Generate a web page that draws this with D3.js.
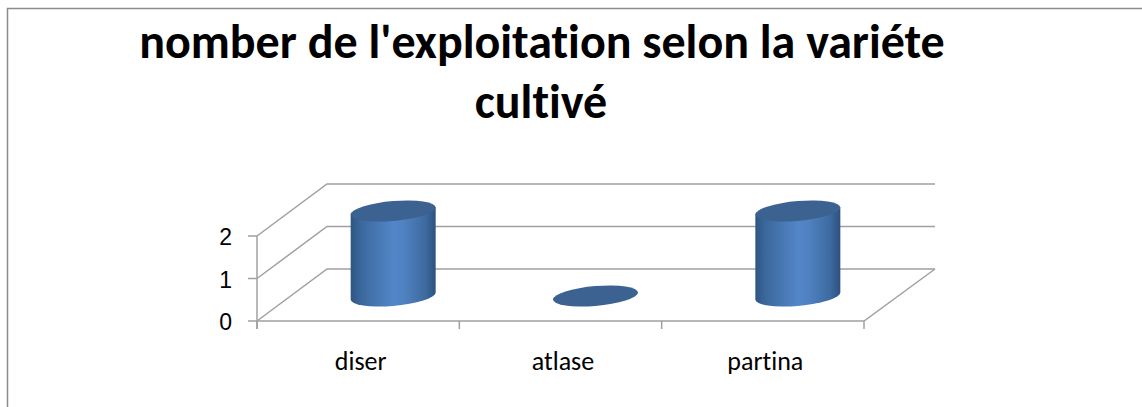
<!DOCTYPE html>
<html><head><meta charset="utf-8">
<script src="https://cdn.jsdelivr.net/npm/d3@7"></script>
<style>html,body{margin:0;padding:0;background:#fff}svg{display:block}text{font-variant-ligatures:none}</style>
</head><body><div id="c"></div>
<script>
const categories = ["diser", "atlase", "partina"];
const values = [2, 0, 2];
const yTicks = [0, 1, 2];
const titleLines = ["nomber de l'exploitation selon la variéte", "cultivé"];

const W = 1142, H = 407;
const svg = d3.select("#c").append("svg").attr("width", W).attr("height", H);
const sansFont = "Carlito, Lato, 'Open Sans', 'Liberation Sans', sans-serif";

const defs = svg.append("defs");
const g = defs.append("linearGradient").attr("id","cyl").attr("x1","0").attr("x2","1").attr("y1","0").attr("y2","0");
[[0,"#2f5583"],[0.12,"#3b689c"],[0.5,"#5386c8"],[0.62,"#5082c2"],[0.88,"#3d6a9f"],[1,"#2d5180"]]
  .forEach(s=>g.append("stop").attr("offset",s[0]).attr("stop-color",s[1]));

svg.append("path").attr("d",`M7.5,${H}V8.5H${W}`).attr("fill","none").attr("stroke","#8c8c8c").attr("stroke-width",1.5);

svg.append("g").selectAll("text").data(titleLines).join("text")
  .attr("x",(d,i)=>i?541:542).attr("y",(d,i)=>58+i*60)
  .attr("text-anchor","middle").attr("font-family",sansFont)
  .attr("font-weight",700).attr("font-size",48).attr("fill","#000").text(d=>d);

const x = d3.scaleBand().domain(categories).range([257,864]).padding(0);
const y = d3.scaleLinear().domain([0,2]).range([321,236]);
const depthX = 70, depthY = -52;
const axis = svg.append("g").attr("fill","none").attr("stroke","#a0a0a0").attr("stroke-width",1.5);
const [x0,x1] = x.range();

yTicks.forEach(t=>{
  axis.append("path").attr("d",`M${x0},${y(t)}L${x0+depthX},${y(t)+depthY}H${x1+depthX+1}`);
});
axis.append("path").attr("d",`M${x0},${y(0)}H${x1}L${x1+depthX+1},${y(0)+depthY}`);
axis.append("path").attr("d",`M${x0},${y(2)}V${y(0)+8}`);
yTicks.forEach(t=>axis.append("path").attr("d",`M${x0-9},${y(t)}H${x0}`));
[...categories.map(c=>x(c)), x1].forEach(v=>axis.append("path").attr("d",`M${v},${y(0)}V${y(0)+8}`));

svg.append("g").selectAll("text").data(yTicks).join("text")
  .attr("x",232).attr("y",d=>y(d)+9).attr("text-anchor","end")
  .attr("font-family","'Liberation Sans',Arial,sans-serif").attr("font-size",23).attr("fill","#000").text(d=>d);
svg.append("g").selectAll("text").data(categories).join("text")
  .attr("x",d=>x(d)+x.bandwidth()/2+2.5).attr("y",370).attr("text-anchor","middle")
  .attr("font-family",sansFont).attr("font-size",26).attr("fill","#000").text(d=>d);

const a = 42.5, b = 9.9, skew = 3.5/42.5;
const offX = 35, offY = -25;
const cyl = svg.append("g");
categories.forEach((c,i)=>{
  const cx = x(c)+x.bandwidth()/2+offX;
  const base = y(0)+offY, top = y(values[i])+offY;
  const grp = cyl.append("g").attr("transform",`matrix(1,${-skew},0,1,${cx},0)`);
  if(values[i]>0){
    grp.append("path").attr("d",`M${-a},${top}V${base}A${a},${b} 0 0 0 ${a},${base}V${top}Z`)
      .attr("fill","url(#cyl)");
  }
  grp.append("ellipse").attr("cx",0).attr("cy",top).attr("rx",a).attr("ry",b).attr("fill","#3c6291");
});
</script></body></html>
